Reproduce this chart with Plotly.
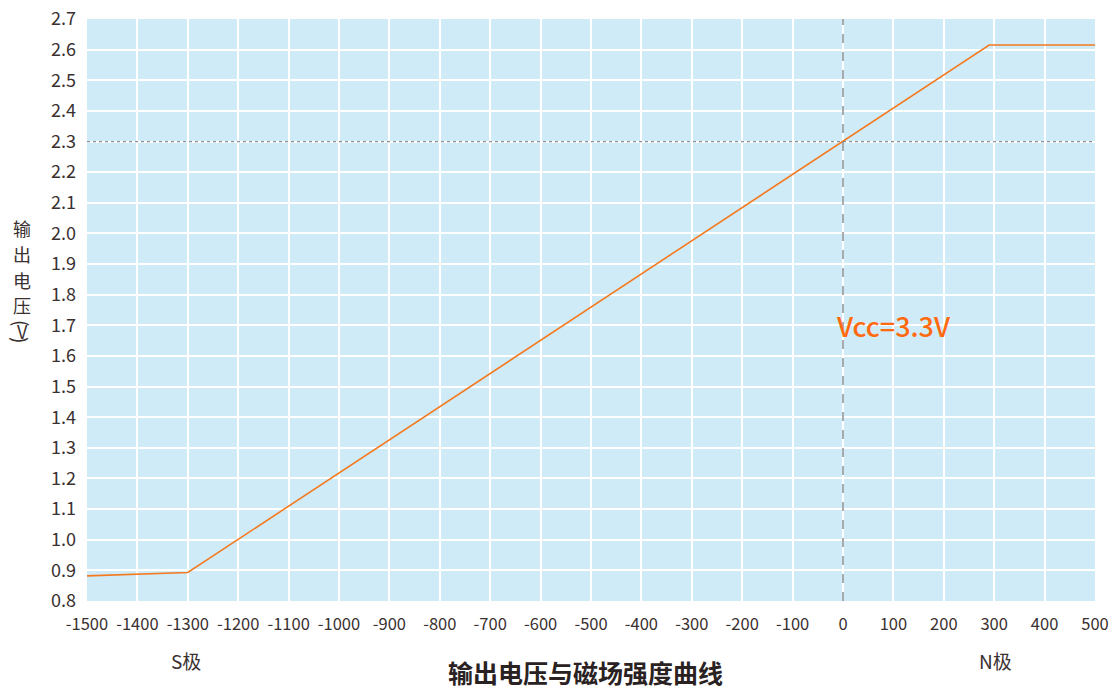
import plotly.graph_objects as go

# Data
field_x = [-1500, -1300, 290, 500]
voltage_y = [0.882, 0.893, 2.615, 2.615]
x_ticks = list(range(-1500, 501, 100))
y_ticks = [round(0.8 + 0.1 * i, 1) for i in range(20)]
ref_voltage = 2.3
ref_field = 0
y_title_chars = ["输", "出", "电", "压"]

FONT = "Noto Sans CJK SC"
TXT = "#3a3030"
L, R, T, B = 87, 20, 19, 89
PW, PH = 1115 - L - R, 690 - T - B


def px(x):
    return (x - L) / PW


def py(y):
    return (690 - B - y) / PH


def label(x, y, text, size, color=TXT, angle=0, family=FONT):
    fig.add_annotation(xref="paper", yref="paper", x=px(x), y=py(y), text=text,
                       xanchor="center", yanchor="middle", textangle=angle,
                       showarrow=False, font=dict(family=family, size=size, color=color))


fig = go.Figure()
fig.add_trace(go.Scatter(x=field_x, y=voltage_y, mode="lines", hoverinfo="skip",
                         line=dict(color="#F47A20", width=1.6), showlegend=False))

fig.add_shape(type="line", x0=-1500, x1=500, y0=ref_voltage, y1=ref_voltage,
              line=dict(color="#8a8f95", width=1.2, dash="dot"), layer="above")
fig.add_shape(type="line", x0=ref_field, x1=ref_field, y0=0.8, y1=2.7,
              line=dict(color="#50565c", width=1, dash="dash"), layer="above")

fig.add_annotation(x=100, y=1.7, text="Vcc=3.3V", showarrow=False,
                   xanchor="center", yanchor="middle",
                   font=dict(family="Noto Sans CJK SC Medium, Noto Sans CJK SC", size=27,
                             color="#FF6A10"))

label(186, 660, "S极", 19)
label(995, 660, "N极", 19)
label(585, 672, "<b>输出电压与磁场强度曲线</b>", 25, "#2a2222")

for ch, yy in zip(y_title_chars, [228, 254, 280, 305]):
    label(22, yy, ch, 18)
label(22, 323, "(", 19, angle=90)
label(22, 331, "V", 18)
label(22, 340, ")", 19, angle=90)

fig.update_layout(
    width=1115, height=690,
    margin=dict(l=L, r=R, t=T, b=B),
    paper_bgcolor="white", plot_bgcolor="#D0EBF8",
    font=dict(family=FONT, color=TXT),
    xaxis=dict(range=[-1500, 500], tickvals=x_ticks, ticktext=[str(v) for v in x_ticks],
               showgrid=True, gridcolor="white", gridwidth=1.5, zeroline=False,
               automargin=False,
               tickfont=dict(size=16.5, color=TXT), ticks="", ticklabelstandoff=11),
    yaxis=dict(range=[0.8, 2.7], tickvals=y_ticks, ticktext=[f"{v:.1f}" for v in y_ticks],
               showgrid=True, gridcolor="white", gridwidth=1.5, zeroline=False,
               automargin=False,
               tickfont=dict(size=18, color=TXT), ticks="", ticklabelstandoff=10),
)

fig.write_html("out.html", config={"displayModeBar": False},
               post_script="document.body.style.margin='0';document.body.style.padding='0';")
